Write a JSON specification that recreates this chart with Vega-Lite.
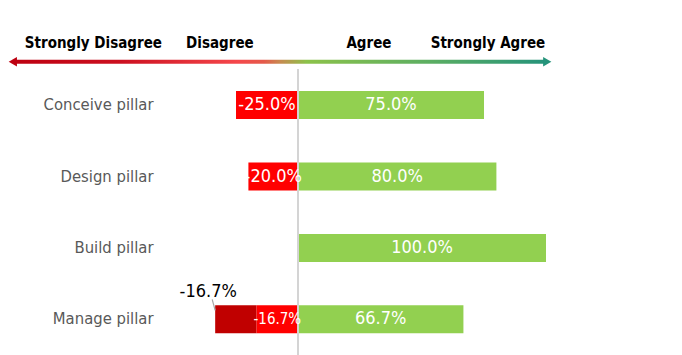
{
  "$schema": "https://vega.github.io/schema/vega-lite/v6.json",
  "autosize": "none",
  "width": 522,
  "height": 355,
  "padding": {"left": 160, "top": 0, "right": 0, "bottom": 0},
  "background": "white",
  "config": {"view": {"stroke": null}, "font": "'DejaVu Sans Condensed', 'Roboto Condensed', 'Arial Narrow', Roboto, sans-serif"},
  "datasets": {
    "bars": [
      {"pillar": "Conceive pillar", "level": "Disagree", "start": -0.25, "end": 0, "label": "-25.0%"},
      {"pillar": "Conceive pillar", "level": "Agree", "start": 0, "end": 0.75, "label": "75.0%"},
      {"pillar": "Design pillar", "level": "Disagree", "start": -0.2, "end": 0, "label": "-20.0%"},
      {"pillar": "Design pillar", "level": "Agree", "start": 0, "end": 0.8, "label": "80.0%"},
      {"pillar": "Build pillar", "level": "Agree", "start": 0, "end": 1.0, "label": "100.0%"},
      {"pillar": "Manage pillar", "level": "Strongly Disagree", "start": -0.334, "end": -0.167, "label": "-16.7%"},
      {"pillar": "Manage pillar", "level": "Disagree", "start": -0.167, "end": 0, "label": "-16.7%"},
      {"pillar": "Manage pillar", "level": "Agree", "start": 0, "end": 0.667, "label": "66.7%"}
    ],
    "header": [
      {"row": "header", "text": "Strongly Disagree", "pos": -0.825},
      {"row": "header", "text": "Disagree", "pos": -0.315},
      {"row": "header", "text": "Agree", "pos": 0.286},
      {"row": "header", "text": "Strongly Agree", "pos": 0.766}
    ],
    "arrow": [
      {"row": "header", "from": -1.145, "to": 1.0}
    ],
    "heads": [
      {"row": "header", "pos": -1.15, "shape": "triangle-left", "col": "#BD0010"},
      {"row": "header", "pos": 1.005, "shape": "triangle-right", "col": "#25937A"}
    ]
  },
  "encoding": {
    "y": {
      "field": "pillar",
      "type": "nominal",
      "scale": {
        "domain": ["header", "Conceive pillar", "Design pillar", "Build pillar", "Manage pillar"],
        "range": [-2, 355],
        "paddingInner": 0,
        "paddingOuter": 0
      },
      "axis": {
        "title": null,
        "domain": false,
        "ticks": false,
        "grid": false,
        "labelPadding": 7,
        "labelFontSize": 16.5,
        "labelColor": "#595959",
        "labelExpr": "datum.value == 'header' ? '' : datum.value"
      }
    }
  },
  "layer": [
    {
      "data": {"name": "bars"},
      "mark": {"type": "bar", "height": 28},
      "encoding": {
        "x": {"field": "start", "type": "quantitative", "scale": {"domain": [-0.5565, 1.5484], "nice": false, "zero": false}, "axis": null},
        "x2": {"field": "end"},
        "color": {
          "field": "level",
          "type": "nominal",
          "scale": {"domain": ["Strongly Disagree", "Disagree", "Agree"], "range": ["#C00000", "#FF0000", "#92D050"]},
          "legend": null
        }
      }
    },
    {
      "data": {"values": [{"v": 0}]},
      "mark": {"type": "rule", "color": "#D4D4D4", "strokeWidth": 2, "yOffset": -36, "y2Offset": 36},
      "encoding": {
        "x": {"field": "v", "type": "quantitative"},
        "y": {"datum": "Conceive pillar"},
        "y2": {"datum": "Manage pillar"}
      }
    },
    {
      "data": {"name": "bars"},
      "transform": [
        {"filter": "datum.level != 'Strongly Disagree'"},
        {"calculate": "(datum.start + datum.end) / 2", "as": "mid"}
      ],
      "mark": {"type": "text", "color": "white", "baseline": "middle", "align": "center"},
      "encoding": {
        "x": {"field": "mid", "type": "quantitative"},
        "text": {"field": "label"},
        "size": {
          "condition": {"test": "datum.pillar == 'Manage pillar' && datum.level == 'Disagree'", "value": 15},
          "value": 18
        }
      }
    },
    {
      "data": {"name": "bars"},
      "transform": [{"filter": "datum.level == 'Strongly Disagree'"}],
      "mark": {"type": "text", "color": "black", "fontSize": 18, "baseline": "middle", "align": "center", "dx": -7, "dy": -27},
      "encoding": {
        "x": {"field": "start", "type": "quantitative"},
        "text": {"field": "label"}
      }
    },
    {
      "data": {"name": "bars"},
      "transform": [{"filter": "datum.level == 'Strongly Disagree'"}],
      "mark": {"type": "rule", "color": "#A6A6A6", "strokeWidth": 1.2, "xOffset": -3, "x2Offset": 0, "yOffset": -20, "y2Offset": -9},
      "encoding": {
        "x": {"field": "start", "type": "quantitative"},
        "x2": {"field": "start"},
        "y": {"field": "pillar", "type": "nominal"},
        "y2": {"field": "pillar"}
      }
    },
    {
      "data": {"name": "arrow"},
      "mark": {
        "type": "bar",
        "height": 4,
        "yOffset": 28,
        "color": {
          "gradient": "linear",
          "x1": 0, "y1": 0, "x2": 1, "y2": 0,
          "stops": [
            {"offset": 0, "color": "#BD0010"},
            {"offset": 0.2, "color": "#CC1020"},
            {"offset": 0.42, "color": "#F5474B"},
            {"offset": 0.47, "color": "#E45A4A"},
            {"offset": 0.5, "color": "#C88A50"},
            {"offset": 0.55, "color": "#8CC24A"},
            {"offset": 0.78, "color": "#5CAE62"},
            {"offset": 1, "color": "#25937A"}
          ]
        }
      },
      "encoding": {
        "x": {"field": "from", "type": "quantitative"},
        "x2": {"field": "to"},
        "y": {"field": "row", "type": "nominal"}
      }
    },
    {
      "data": {"name": "heads"},
      "mark": {"type": "point", "filled": true, "opacity": 1, "size": 90, "yOffset": 28},
      "encoding": {
        "x": {"field": "pos", "type": "quantitative"},
        "y": {"field": "row", "type": "nominal"},
        "shape": {"field": "shape", "type": "nominal", "scale": null, "legend": null},
        "color": {"field": "col", "type": "nominal", "scale": null, "legend": null}
      }
    },
    {
      "data": {"name": "header"},
      "mark": {"type": "text", "color": "black", "fontWeight": "bold", "fontSize": 15, "baseline": "middle", "align": "center", "dy": 9},
      "encoding": {
        "x": {"field": "pos", "type": "quantitative"},
        "y": {"field": "row", "type": "nominal"},
        "text": {"field": "text"}
      }
    }
  ]
}
